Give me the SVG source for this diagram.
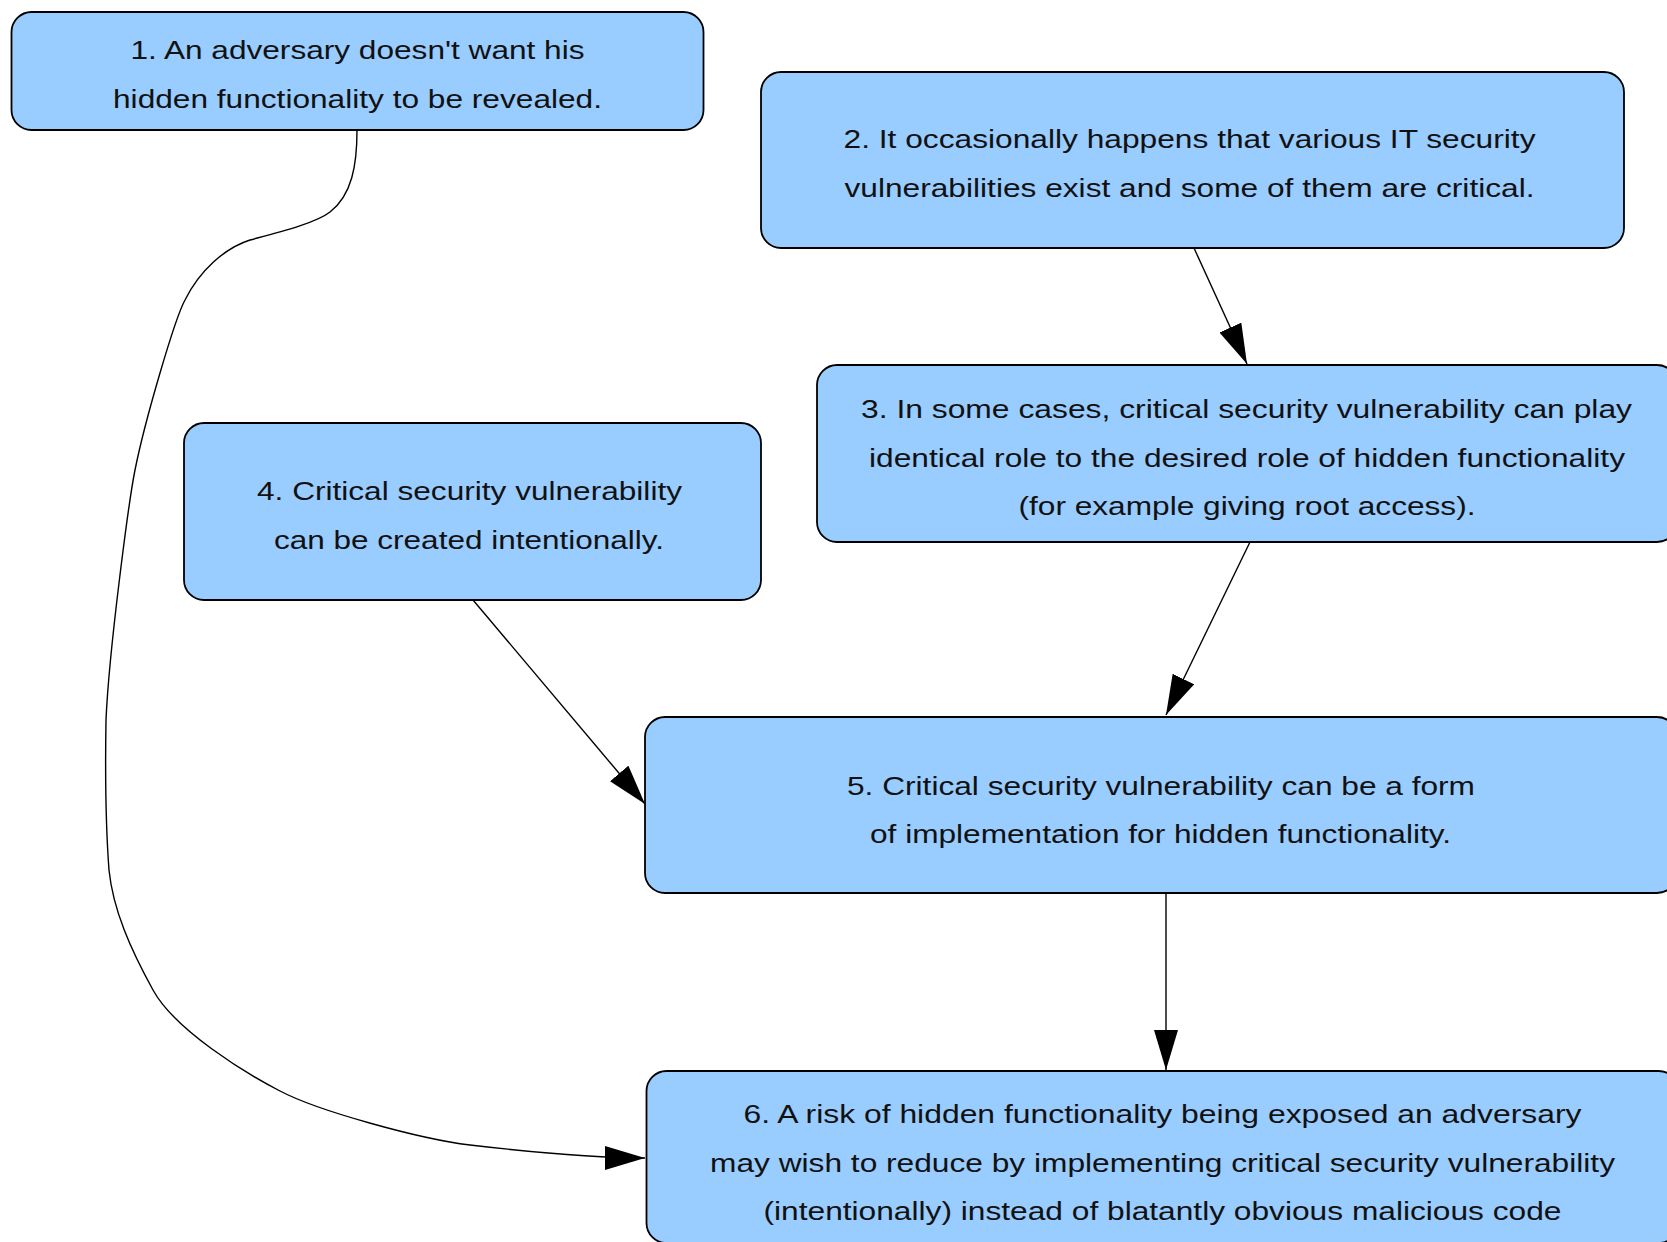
<svg xmlns="http://www.w3.org/2000/svg" width="1667" height="1242" viewBox="0 0 1667 1242">
  <defs>
    <style>
      .node rect { fill: #99ccff; stroke: #000; stroke-width: 1.8; }
      .node text { font-family: "Liberation Sans", Arial, sans-serif; font-size: 26px; fill: #111; text-anchor: middle; }
      .edge { fill: none; stroke: #000; stroke-width: 1.4; marker-end: url(#arrow); }
    </style>
    <marker id="arrow" markerUnits="userSpaceOnUse" markerWidth="42" markerHeight="26" refX="40" refY="12" orient="auto">
      <path d="M0,0 L40,12 L0,24 z" fill="#000"/>
    </marker>
  </defs>
  <rect width="1667" height="1242" fill="#fff"/>

  <!-- connectors -->
  <g id="edges">
    <path id="e1-6" class="edge" d="M357,130 C357,165 352,195 330,212 C316,223 280,232 250,240 C225,248 200,270 185,300 C175,318 145,420 135,470 C129,500 109,650 106,720 C105,780 106,830 109,870 C113,910 131,950 153,990 C175,1030 245,1073 280,1091 C318,1111 420,1139 470,1145 C530,1152 600,1158 645,1158"/>
    <path id="e2-3" class="edge" d="M1194,248 L1247,364"/>
    <path id="e3-5" class="edge" d="M1250,542 L1166,715"/>
    <path id="e4-5" class="edge" d="M473,600 L645,804"/>
    <path id="e5-6" class="edge" d="M1166,893 L1166,1070"/>
  </g>

  <!-- nodes -->
  <g id="n1" class="node">
    <rect x="11.5" y="12" width="692" height="118" rx="20" ry="20"/>
    <text x="357.5" y="58.5" textLength="454" lengthAdjust="spacingAndGlyphs">1. An adversary doesn't want his</text>
    <text x="357.5" y="108" textLength="489" lengthAdjust="spacingAndGlyphs">hidden functionality to be revealed.</text>
  </g>

  <g id="n2" class="node">
    <rect x="761" y="72" width="863" height="176" rx="20" ry="20"/>
    <text x="1189.5" y="148" textLength="692" lengthAdjust="spacingAndGlyphs">2. It occasionally happens that various IT security</text>
    <text x="1189.5" y="197" textLength="690" lengthAdjust="spacingAndGlyphs">vulnerabilities exist and some of them are critical.</text>
  </g>

  <g id="n3" class="node">
    <rect x="817" y="365" width="860" height="177" rx="20" ry="20"/>
    <text x="1246.5" y="418" textLength="771" lengthAdjust="spacingAndGlyphs">3. In some cases, critical security vulnerability can play</text>
    <text x="1247" y="467" textLength="756" lengthAdjust="spacingAndGlyphs">identical role to the desired role of hidden functionality</text>
    <text x="1247" y="515" textLength="457" lengthAdjust="spacingAndGlyphs">(for example giving root access).</text>
  </g>

  <g id="n4" class="node">
    <rect x="184" y="423" width="577" height="177" rx="20" ry="20"/>
    <text x="469.5" y="500" textLength="425" lengthAdjust="spacingAndGlyphs">4. Critical security vulnerability</text>
    <text x="469" y="549" textLength="390" lengthAdjust="spacingAndGlyphs">can be created intentionally.</text>
  </g>

  <g id="n5" class="node">
    <rect x="645" y="717" width="1032" height="176" rx="20" ry="20"/>
    <text x="1161" y="795" textLength="628" lengthAdjust="spacingAndGlyphs">5. Critical security vulnerability can be a form</text>
    <text x="1160.5" y="843" textLength="581" lengthAdjust="spacingAndGlyphs">of implementation for hidden functionality.</text>
  </g>

  <g id="n6" class="node">
    <rect x="646.5" y="1071" width="1032" height="172" rx="20" ry="20"/>
    <text x="1162.5" y="1123" textLength="838" lengthAdjust="spacingAndGlyphs">6. A risk of hidden functionality being exposed an adversary</text>
    <text x="1162.5" y="1171.5" textLength="905" lengthAdjust="spacingAndGlyphs">may wish to reduce by implementing critical security vulnerability</text>
    <text x="1162.5" y="1220" textLength="798" lengthAdjust="spacingAndGlyphs">(intentionally) instead of blatantly obvious malicious code</text>
  </g>
</svg>
